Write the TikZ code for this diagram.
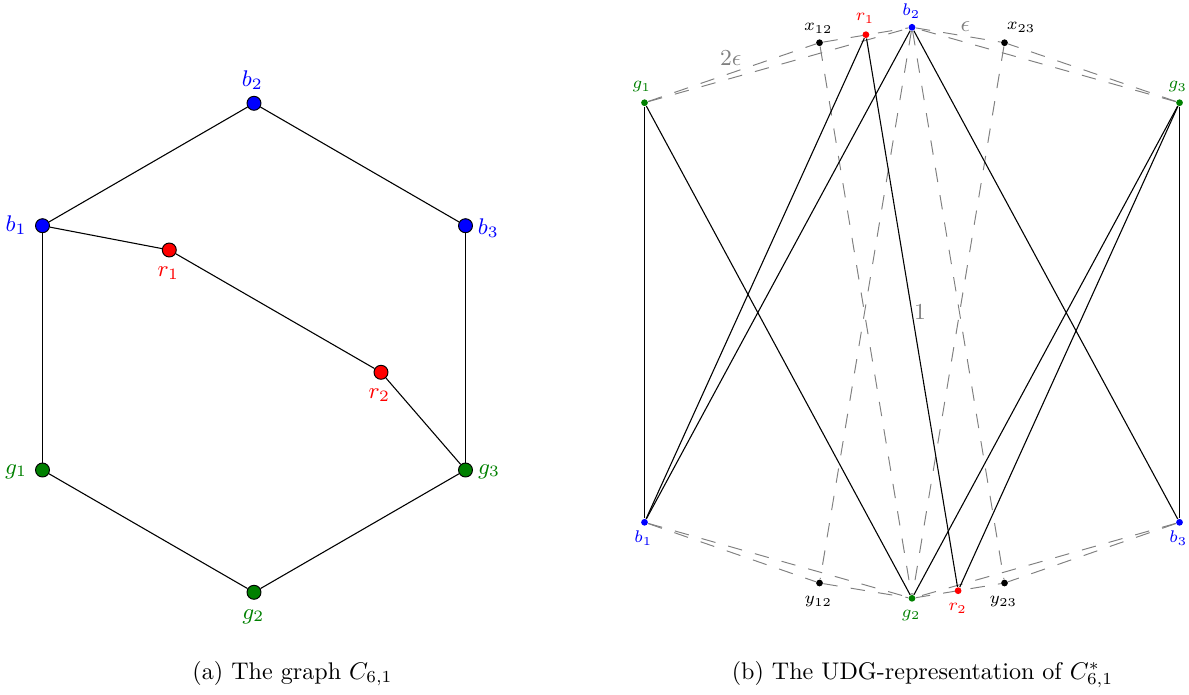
\RequirePackage{fix-cm}
\documentclass[tikz,border=0pt]{standalone}
\definecolor{ugreen}{rgb}{0,0.5,0}
\pgfdeclarelayer{background}
\pgfsetlayers{background,main}
\begin{document}
\begin{tikzpicture}[x=0.415pt,y=-0.415pt,
  bigdot/.style={circle,draw=black,line width=0.4pt,minimum size=5.8pt,inner sep=0pt},
  smalldot/.style={circle,inner sep=0pt,minimum size=2.8pt},
  edge/.style={black,line width=0.45pt},
  dsh/.style={gray,line width=0.4pt,dash pattern=on 6pt off 5.5pt},
  lbl/.style={inner sep=0pt,font=\fontsize{9.4}{11}\selectfont},
  slbl/.style={inner sep=0pt,font=\fontsize{7}{8}\selectfont},
  glbl/.style={inner sep=0pt,text=gray,font=\fontsize{9.5}{11}\selectfont}]
\useasboundingbox (0,0) rectangle (1189,694);

% ---------- (a) left graph ----------
\node[bigdot,fill=blue] (Lb2) at (254,103.3) {};
\node[bigdot,fill=blue] (Lb1) at (42.5,225.7) {};
\node[bigdot,fill=blue] (Lb3) at (465.5,225.7) {};
\node[bigdot,fill=red] (Lr1) at (169.3,250) {};
\node[bigdot,fill=red] (Lr2) at (381,372.3) {};
\node[bigdot,fill=ugreen] (Lg1) at (42.5,470) {};
\node[bigdot,fill=ugreen] (Lg3) at (465.5,470) {};
\node[bigdot,fill=ugreen] (Lg2) at (254,592.3) {};

\node[lbl,text=blue] (Lb2l) at (252.3,80) {$b_2$};
\node[lbl,text=blue] (Lb1l) at (16,225) {$b_1$};
\node[lbl,text=blue] (Lb3l) at (488.3,228.3) {$b_3$};
\node[lbl,text=red] (Lr1l) at (168.3,273.3) {$r_1$};
\node[lbl,text=red] (Lr2l) at (379.3,395) {$r_2$};
\node[lbl,text=ugreen] (Lg1l) at (16,471.7) {$g_1$};
\node[lbl,text=ugreen] (Lg3l) at (489,471.7) {$g_3$};
\node[lbl,text=ugreen] (Lg2l) at (253.3,616.7) {$g_2$};

\begin{pgfonlayer}{background}
\draw[edge] (Lb1) -- (Lb2);
\draw[edge] (Lb2) -- (Lb3);
\draw[edge] (Lb3) -- (Lg3);
\draw[edge] (Lg3) -- (Lg2);
\draw[edge] (Lg2) -- (Lg1);
\draw[edge] (Lg1) -- (Lb1);
\draw[edge] (Lb1) -- (Lr1);
\draw[edge] (Lr1) -- (Lr2);
\draw[edge] (Lr2) -- (Lg3);
\end{pgfonlayer}

% ---------- (b) right UDG representation ----------
\node[smalldot,fill=ugreen] (g1) at (644.5,102.7) {};
\node[smalldot,fill=black] (x12) at (819.5,42.7) {};
\node[smalldot,fill=red] (r1) at (865.9,34.7) {};
\node[smalldot,fill=blue] (b2) at (912,27.3) {};
\node[smalldot,fill=black] (x23) at (1004.5,42.7) {};
\node[smalldot,fill=ugreen] (g3) at (1179.5,102.7) {};
\node[smalldot,fill=blue] (b1) at (644.5,522.3) {};
\node[smalldot,fill=black] (y12) at (819.5,583) {};
\node[smalldot,fill=ugreen] (g2) at (912,598.3) {};
\node[smalldot,fill=red] (r2) at (958.1,590.7) {};
\node[smalldot,fill=black] (y23) at (1004.5,583) {};
\node[smalldot,fill=blue] (b3) at (1179.5,522.3) {};

\node[slbl,text=ugreen] (g1l) at (641.7,86.7) {$g_1$};
\node[slbl] (x12l) at (818.3,28.3) {$x_{12}$};
\node[slbl,text=red] (r1l) at (865,18.3) {$r_1$};
\node[slbl,text=blue] (b2l) at (911.3,11) {$b_2$};
\node[slbl] (x23l) at (1021,27.3) {$x_{23}$};
\node[slbl,text=ugreen] (g3l) at (1177.7,86.7) {$g_3$};
\node[slbl,text=blue] (b1l) at (643.3,538.3) {$b_1$};
\node[slbl] (y12l) at (818.3,601.7) {$y_{12}$};
\node[slbl,text=ugreen] (g2l) at (911,615) {$g_2$};
\node[slbl,text=red] (r2l) at (957.7,608.3) {$r_2$};
\node[slbl] (y23l) at (1003.3,601.7) {$y_{23}$};
\node[slbl,text=blue] (b3l) at (1178.3,538.3) {$b_3$};

\node[glbl] (eps2) at (730.7,58.3) {$2\epsilon$};
\node[glbl] (eps1) at (965.3,26.7) {$\epsilon$};
\node[glbl] (one) at (920,311.7) {$1$};

\begin{pgfonlayer}{background}
% dashed distance lines
\draw[dsh] (g1) -- (x12);
\draw[dsh] (g1) -- (b2);
\draw[dsh] (x12) -- (b2);
\draw[dsh] (b2) -- (x23);
\draw[dsh] (g3) -- (x23);
\draw[dsh] (g3) -- (b2);
\draw[dsh] (b1) -- (y12);
\draw[dsh] (b1) -- (g2);
\draw[dsh] (y12) -- (g2);
\draw[dsh] (g2) -- (y23);
\draw[dsh] (b3) -- (y23);
\draw[dsh] (b3) -- (g2);
\draw[dsh] (x12) -- (g2);
\draw[dsh] (b2) -- (y12);
\draw[dsh] (x23) -- (g2);
\draw[dsh] (b2) -- (y23);
% solid edges
\draw[edge] (g1) -- (b1);
\draw[edge] (g3) -- (b3);
\draw[edge] (g1) -- (g2);
\draw[edge] (b1) -- (r1);
\draw[edge] (b1) -- (b2);
\draw[edge] (r1) -- (r2);
\draw[edge] (b2) -- (b3);
\draw[edge] (g3) -- (g2);
\draw[edge] (g3) -- (r2);
\end{pgfonlayer}

% ---------- captions ----------
\node[anchor=base] (capa) at (292.5,679) {(a) The graph $C_{6,1}$};
\node[anchor=base] (capb) at (922.5,679) {(b) The UDG-representation of $C^*_{6,1}$};
\end{tikzpicture}
\end{document}
